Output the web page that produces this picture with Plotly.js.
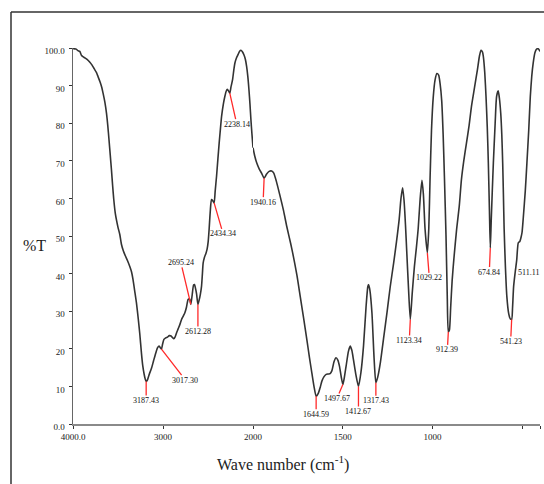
<!DOCTYPE html>
<html>
<head>
<meta charset="utf-8">
<script src="https://cdn.plot.ly/plotly-3.0.1.min.js"></script>
<style>
  html, body { margin: 0; padding: 0; background: #fff; }
  #chart { width: 544px; height: 484px; }
</style>
</head>
<body>
<div id="chart"></div>
<script>
// ---- Data (wavenumber in cm-1, transmittance in %T) ----
// High-wavenumber segment (4000 -> 2000, compressed scale)
const waveHigh = [4000,3990,3965,3945,3925,3905,3890,3870,3844,3815,3790,3765,3740,3722,3700,3680,3666,3645,3628,3614,3600,3586,3573,3560,3547,3530,3515,3500,3480,3462,3440,3420,3395,3369,3350,3333,3315,3295,3275,3258,3240,3225,3210,3198,3187,3175,3162,3150,3128,3105,3080,3060,3043,3030,3017,3005,2990,2970,2950,2930,2910,2895,2880,2865,2850,2832,2812,2794,2775,2757,2740,2721,2705,2691,2675,2660,2650,2640,2627,2612,2598,2585,2572,2562,2554,2540,2524,2510,2498,2487,2475,2461,2447,2432,2420,2405,2390,2376,2362,2349,2330,2313,2298,2285,2272,2258,2245,2227,2214,2201,2183,2165,2150,2134,2118,2101,2085,2071,2058,2045,2034,2023,2012,2000];
const transHigh = [99.9,99.8,99.7,99.3,99.1,98.0,97.7,97.4,97.0,96.3,95.5,94.5,93.5,92.4,91.0,89.5,88.0,85.5,82.7,79.5,75.6,71.5,67.7,63.5,59.7,56.0,54.0,52.3,50.4,47.8,46.0,44.8,43.5,41.9,40.5,38.4,35.5,32.2,28.0,24.0,19.0,15.5,13.3,12.0,11.3,11.6,12.5,13.4,14.8,16.8,18.9,20.3,20.7,20.3,19.9,21.2,22.5,22.9,23.1,23.5,23.4,23.0,22.7,23.2,24.2,25.3,26.5,27.8,28.7,29.6,31.0,33.1,33.3,31.8,34.5,37.0,37.1,36.2,34.6,31.8,33.0,34.5,36.6,40.0,42.8,44.3,45.3,46.5,48.5,52.0,56.5,59.7,59.4,58.8,62.0,65.9,70.5,74.7,78.5,81.8,85.0,87.1,88.5,89.0,88.6,88.0,89.6,91.6,94.0,96.0,97.4,98.3,99.1,99.4,99.0,98.2,97.0,95.1,92.5,88.9,85.2,80.9,77.2,73.5];

// Low-wavenumber segment (2000 -> 400, expanded scale)
const waveLow = [2000,1990,1979,1965,1951,1938,1925,1910,1896,1885,1870,1849,1830,1812,1790,1775,1755,1737,1718,1700,1685,1672,1660,1648,1635,1625,1616,1604,1592,1580,1570,1560,1548,1537,1527,1518,1508,1499,1490,1481,1468,1458,1449,1440,1426,1412,1398,1384,1370,1360,1356,1348,1337,1325,1315,1305,1290,1270,1253,1235,1216,1200,1185,1175,1166,1158,1150,1143,1133,1123,1112,1100,1090,1079,1068,1058,1050,1041,1028,1020,1013,1005,995,985,975,965,957,948,940,933,924,917,911,905,898,890,880,865,850,838,825,810,795,782,765,749,737,729,721,716,708,701,694,688,682,677,672,666,660,650,642,633,626,619,613,608,604,600,593,585,575,566,558,553,547,538,530,521,512,505,500,493,482,473,463,454,446,438,428,419,410,400];
const transLow = [73.5,71.2,69.4,67.8,66.6,65.4,66.4,67.2,67.3,66.8,64.6,60.6,56.8,52.6,48.0,44.6,39.5,34.0,28.2,22.5,17.6,13.6,10.0,7.4,8.3,9.8,11.4,12.6,13.2,13.3,13.4,14.2,16.6,17.6,17.0,15.4,12.5,10.5,12.6,15.4,19.3,20.7,19.6,17.1,13.0,10.0,13.8,20.7,31.0,36.5,37.1,35.5,29.6,17.5,11.0,12.4,16.3,23.5,29.6,36.5,42.8,48.5,54.5,60.0,62.8,59.5,53.0,46.0,36.0,27.8,35.0,42.0,46.5,52.0,60.0,64.8,61.0,52.0,45.5,52.0,65.0,78.0,87.0,91.5,93.2,92.8,90.5,86.0,77.0,66.0,50.0,34.0,24.5,25.0,31.0,38.0,44.0,51.7,58.0,65.0,70.0,74.7,79.5,84.5,89.5,94.2,98.0,99.4,99.0,97.8,93.5,87.1,79.0,69.4,57.0,46.8,54.0,62.0,69.4,80.0,87.1,88.6,86.5,82.7,77.0,69.4,61.0,52.0,42.0,34.0,29.5,28.0,27.8,31.0,36.6,40.5,43.5,48.2,48.6,49.8,51.0,55.0,62.0,69.4,78.0,87.1,92.5,96.0,98.8,99.7,99.8,99.1];

// Marked bands: position of the marked minimum in the curve, and its printed label
const peakWave = [3187, 3017, 2691, 2612, 2432, 2258, 1938, 1648, 1499, 1412, 1315, 1123, 1028, 911, 677, 558];
const peakText = ['3187.43','3017.30','2695.24','2612.28','2434.34','2238.14','1940.16','1644.59','1497.67','1412.67','1317.43','1123.34','1029.22','912.39','674.84','541.23'];

// Axis ticks
const yTickVals = [0,10,20,30,40,50,60,70,80,90,100];
const yTickText = ['0.0','10','20','30','40','50','60','70','80','90','100.0'];
const xHighTickVals = [4000, 3000];
const xHighTickText = ['4000.0', '3000'];
const xLowTickVals = [2000, 1500, 1000, 400];
const xLowTickText = ['2000', '1500', '1000', '400.0'];
const xLowMinorTicks = [500];

// ---- Styling / layout (pixel offsets of the label leaders) ----
const labelOffsets = [[0,19],[24,31],[-10,-42],[0,27],[9,31],[7,31],[-1,24],[0,18],[-6,14],[0,25],[0,18],[-1,21],[2,25],[-1,18],[-1,24],[-1,22]];

const serif = 'Liberation Serif, Times New Roman, serif';
const lineStyle = {color: '#333333', width: 1.6, shape: 'spline', smoothing: 0.6};

const traces = [
  {x: waveHigh, y: transHigh, xaxis: 'x', yaxis: 'y', type: 'scatter', mode: 'lines',
   line: lineStyle, hoverinfo: 'skip', showlegend: false},
  {x: waveLow, y: transLow, xaxis: 'x2', yaxis: 'y', type: 'scatter', mode: 'lines',
   line: lineStyle, hoverinfo: 'skip', showlegend: false}
];

function lookupT(w) {
  const useHigh = w > 2000;
  const xs = useHigh ? waveHigh : waveLow;
  const ys = useHigh ? transHigh : transLow;
  let best = 0;
  for (let i = 1; i < xs.length; i++) {
    if (Math.abs(xs[i] - w) < Math.abs(xs[best] - w)) best = i;
  }
  return ys[best];
}

const annotations = peakWave.map((w, i) => ({
  x: w, y: lookupT(w), xref: w > 2000 ? 'x' : 'x2', yref: 'y',
  text: peakText[i], showarrow: true, arrowhead: 0, arrowwidth: 1.3,
  arrowcolor: '#ff2a2a', ax: labelOffsets[i][0], ay: labelOffsets[i][1],
  standoff: 0, borderpad: 0,
  font: {family: serif, size: 8, color: '#111'}
}));

annotations.push({
  x: 465, y: 40.2, xref: 'x2', yref: 'y', text: '511.11', showarrow: false,
  font: {family: serif, size: 8, color: '#111'}
});

const L = 73, R = 4, T = 48, B = 60, W = 544, H = 484;
const pw = W - L - R, ph = H - T - B;
const px = v => (v - L) / pw;
const py = v => (H - B - v) / ph;

annotations.push({
  x: px(283), y: py(463), xref: 'paper', yref: 'paper', xanchor: 'center', yanchor: 'middle',
  text: 'Wave number (cm<sup>-1</sup>)', showarrow: false,
  font: {family: serif, size: 16, color: '#222'}
});
annotations.push({
  x: px(34), y: py(245), xref: 'paper', yref: 'paper', xanchor: 'center', yanchor: 'middle',
  text: '%T', showarrow: false,
  font: {family: serif, size: 16, color: '#222'}
});

const split = (253 - L) / pw;

const tickFont = {family: serif, size: 9, color: '#222'};

const layout = {
  width: W, height: H,
  margin: {l: L, r: R, t: T, b: B, pad: 0},
  paper_bgcolor: '#fff', plot_bgcolor: '#fff',
  showlegend: false,
  xaxis: {
    domain: [0, split], range: [4000, 2000], anchor: 'y',
    showline: true, linecolor: '#8a8a8a', linewidth: 2,
    showgrid: false, zeroline: false,
    ticks: 'outside', ticklen: 3, tickcolor: '#333', tickwidth: 1,
    tickmode: 'array', tickvals: xHighTickVals, ticktext: xHighTickText,
    tickfont: tickFont, fixedrange: true
  },
  xaxis2: {
    domain: [split, 1], range: [2000, 400], anchor: 'y',
    showline: true, linecolor: '#8a8a8a', linewidth: 2,
    showgrid: false, zeroline: false,
    ticks: 'outside', ticklen: 3, tickcolor: '#333', tickwidth: 1,
    tickmode: 'array', tickvals: xLowTickVals, ticktext: xLowTickText,
    minor: {tickmode: 'array', tickvals: xLowMinorTicks, ticks: 'outside', ticklen: 3,
            tickcolor: '#333', tickwidth: 1, showgrid: false},
    tickfont: tickFont, fixedrange: true
  },
  yaxis: {
    domain: [0, 1], range: [0, 100], anchor: 'x',
    showline: true, linecolor: '#666', linewidth: 1.5,
    showgrid: false, zeroline: false,
    ticks: 'outside', ticklen: 3, tickcolor: '#333', tickwidth: 1,
    tickmode: 'array', tickvals: yTickVals, ticktext: yTickText,
    tickfont: tickFont, ticklabelshift: 3, ticklabelstandoff: 2, fixedrange: true
  },
  annotations: annotations,
  shapes: [
    {type: 'line', xref: 'paper', yref: 'paper', x0: px(11), x1: px(11), y0: py(12), y1: py(490),
     line: {color: '#333', width: 1.5}},
    {type: 'line', xref: 'paper', yref: 'paper', x0: px(11), x1: px(550), y0: py(12), y1: py(12),
     line: {color: '#333', width: 1.5}}
  ]
};

Plotly.newPlot('chart', traces, layout, {displayModeBar: false, staticPlot: true});
</script>
</body>
</html>
